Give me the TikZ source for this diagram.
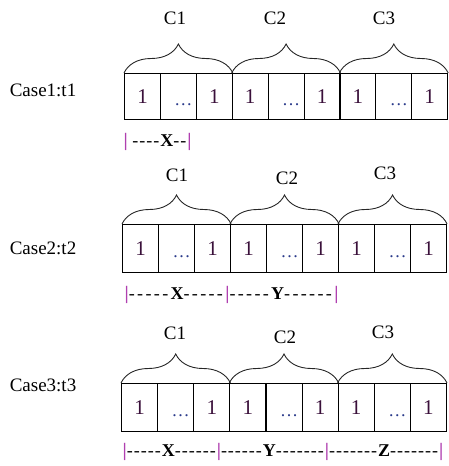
\documentclass[tikz,border=0pt]{standalone}
\usepackage{fontspec}
\setmainfont{Liberation Serif}
\usetikzlibrary{decorations.pathreplacing}
\definecolor{barc}{HTML}{B040B0}
\definecolor{onec}{HTML}{3A103A}
\definecolor{dotc}{HTML}{2A3A8A}
\def\dk{2pt}
\newcommand\dsh{-\kern\dk}
\newcommand\vbar{{\fontsize{19}{21}\selectfont\color{barc}\textbf{|}}}
\begin{document}
\begin{tikzpicture}[x=1pt,y=-1pt,
  every node/.style={font=\fontsize{19}{21}\selectfont, inner sep=0pt},
  cell/.style 2 args={draw, line width=1.1pt, minimum width=#1pt, minimum height=#2pt, anchor=north west},
  one/.style={text=onec, font=\fontsize{21}{23}\selectfont},
  dots/.style={text=dotc, font=\fontsize{18}{20}\selectfont, anchor=base},
  brc/.style={decorate, decoration={brace, amplitude=29pt}, line width=0.9pt, draw=black!85},
  seg/.style={anchor=west, font=\fontsize{18}{20}\selectfont}]
\useasboundingbox (0,0) rectangle (449,466);
% ---------- Row 1
\node (case1) at (43,90) {Case1:t1};
\foreach \i in {1,...,9}
  \node[cell={35.9}{46}] (a\i) at ({124+(\i-1)*35.9},73) {};
\foreach \i in {1,3,4,6,7,9}
  \node[one] (at\i) at (a\i.center) {1};
\foreach \i in {2,5,8}
  \node[dots] (ad\i) at ([xshift=5pt,yshift=-9pt]a\i.center) {\ldots};
\draw[brc] (a1.north west) -- (a3.north east);
\draw[brc] (a4.north west) -- (a6.north east);
\draw[brc] (a7.north west) -- (a9.north east);
\node (aC1) at (175,18) {C1};
\node (aC2) at (275,18) {C2};
\node (aC3) at (384,18) {C3};
\node[seg] (alab) at (123.5,142) {\def\dk{1.0pt}\vbar\ \dsh\dsh\dsh\dsh\textbf{X}\dsh\dsh\vbar};
% ---------- Row 2
\node (case2) at (43,248) {Case2:t2};
\foreach \i in {1,...,9}
  \node[cell={36}{48}] (b\i) at ({122+(\i-1)*36},224) {};
\foreach \i in {1,3,4,6,7,9}
  \node[one] (bt\i) at (b\i.center) {1};
\foreach \i in {2,5,8}
  \node[dots] (bd\i) at ([xshift=5pt,yshift=-9pt]b\i.center) {\ldots};
\draw[brc] (b1.north west) -- (b3.north east);
\draw[brc] (b4.north west) -- (b6.north east);
\draw[brc] (b7.north west) -- (b9.north east);
\node (bC1) at (177,175) {C1};
\node (bC2) at (287,178) {C2};
\node (bC3) at (385,173) {C3};
\node[seg] (blab) at (124.5,295) {\def\dk{2.35pt}\vbar\dsh\dsh\dsh\dsh\dsh\textbf{X}\dsh\dsh\dsh\dsh\dsh\vbar\dsh\dsh\dsh\dsh\dsh\textbf{Y}\dsh\dsh\dsh\dsh\dsh\dsh\vbar};
% ---------- Row 3
\node (case3) at (43,385) {Case3:t3};
\foreach \i in {1,...,9}
  \node[cell={36.1}{48}] (c\i) at ({121+(\i-1)*36.1},383) {};
\foreach \i in {1,3,4,6,7,9}
  \node[one] (ct\i) at (c\i.center) {1};
\foreach \i in {2,5,8}
  \node[dots] (cd\i) at ([xshift=5pt,yshift=-9pt]c\i.center) {\ldots};
\draw[brc] (c1.north west) -- (c3.north east);
\draw[brc] (c4.north west) -- (c6.north east);
\draw[brc] (c7.north west) -- (c9.north east);
\node (cC1) at (175,333) {C1};
\node (cC2) at (285,337) {C2};
\node (cC3) at (383,332) {C3};
\node[seg] (clab) at (122.5,452) {\def\dk{1.0pt}\vbar\dsh\dsh\dsh\dsh\dsh\textbf{X}\dsh\dsh\dsh\dsh\dsh\dsh\vbar\dsh\dsh\dsh\dsh\dsh\dsh\textbf{Y}\dsh\dsh\dsh\dsh\dsh\dsh\dsh\vbar\dsh\dsh\dsh\dsh\dsh\dsh\dsh\textbf{Z}\dsh\dsh\dsh\dsh\dsh\dsh\dsh\vbar};
\end{tikzpicture}
\end{document}
